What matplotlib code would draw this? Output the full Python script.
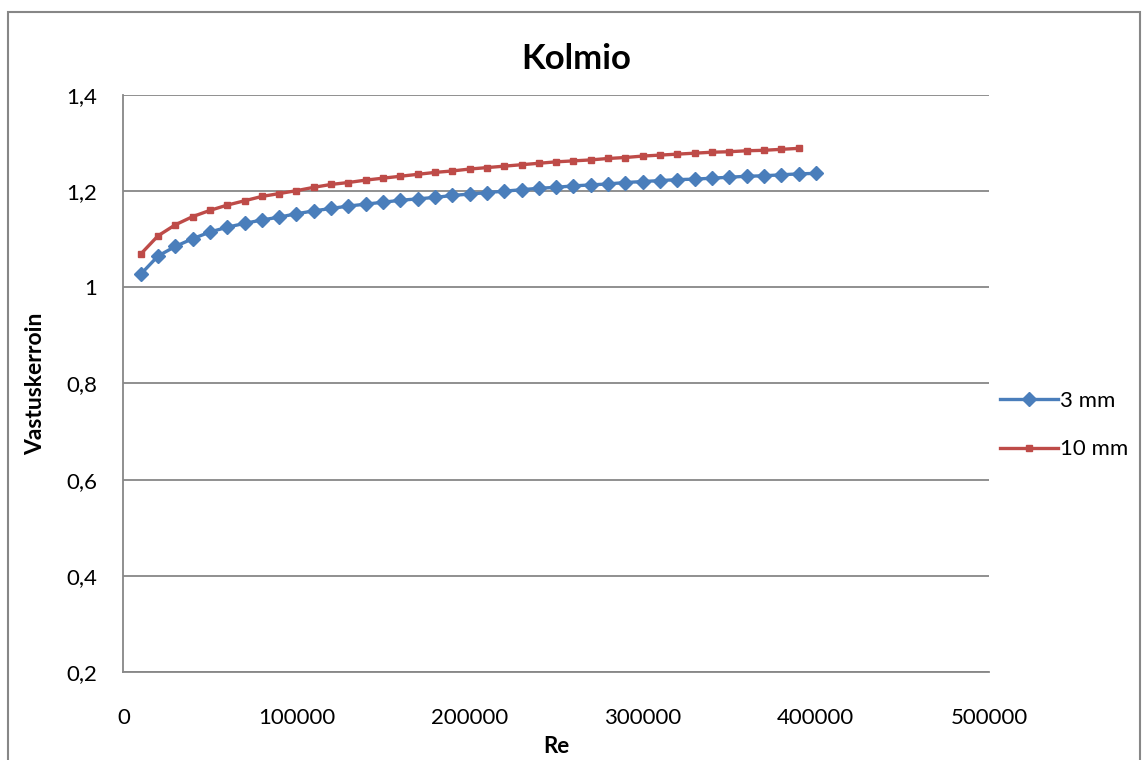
import matplotlib
matplotlib.use('Agg')
import matplotlib.pyplot as plt
from matplotlib.patches import Rectangle
from matplotlib.ticker import FuncFormatter

# Re values (x) for both series
re_3mm = [10000 * k for k in range(1, 41)]
re_10mm = [10000 * k for k in range(1, 40)]

# drag coefficient
cd_3mm = [1.027, 1.065, 1.085, 1.101, 1.115, 1.125, 1.133, 1.140, 1.146, 1.153,
          1.159, 1.164, 1.169, 1.173, 1.177, 1.181, 1.184, 1.187, 1.191, 1.194,
          1.197, 1.200, 1.203, 1.206, 1.208, 1.211, 1.213, 1.215, 1.218, 1.220,
          1.222, 1.224, 1.225, 1.227, 1.229, 1.231, 1.232, 1.234, 1.236, 1.237]
cd_10mm = [1.069, 1.107, 1.130, 1.147, 1.160, 1.171, 1.180, 1.189, 1.195, 1.201,
           1.208, 1.214, 1.218, 1.223, 1.227, 1.231, 1.235, 1.239, 1.242, 1.246,
           1.249, 1.252, 1.255, 1.258, 1.261, 1.263, 1.265, 1.268, 1.270, 1.273,
           1.275, 1.277, 1.279, 1.281, 1.282, 1.284, 1.285, 1.287, 1.289]

x_ticks = [0, 100000, 200000, 300000, 400000, 500000]
y_ticks = [0.2, 0.4, 0.6, 0.8, 1.0, 1.2, 1.4]

plt.rcParams['font.family'] = ['Lato', 'DejaVu Sans']
grey = '#878787'

fig = plt.figure(figsize=(11.45, 7.6), dpi=100)
ax = fig.add_axes([0.1077, 0.1158, 0.7560, 0.7592])

# outer chart border (Excel style)
fig.patches.append(Rectangle((8 / 1145, -0.05), 1132 / 1145, 1.05 - 12 / 760,
                             transform=fig.transFigure, fill=False,
                             edgecolor=grey, linewidth=1.5))

ax.plot(re_3mm, cd_3mm, color='#4a7ebb', linewidth=2.4, marker='D',
        markersize=7, label='3 mm')
ax.plot(re_10mm, cd_10mm, color='#be4b48', linewidth=2.4, marker='s',
        markersize=5, label='10 mm')

ax.set_xlim(0, 500000)
ax.set_ylim(0.2, 1.4)
ax.set_xticks(x_ticks)
ax.set_yticks(y_ticks)
ax.yaxis.set_major_formatter(FuncFormatter(lambda v, p: f"{v:g}".replace('.', ',')))
ax.tick_params(length=0, labelsize=16)
ax.tick_params(axis='x', pad=26)
ax.tick_params(axis='y', pad=19)
ax.grid(axis='y', color=grey, linewidth=1.3)
ax.set_axisbelow(True)
for side in ['top', 'right']:
    ax.spines[side].set_visible(False)
for side in ['left', 'bottom']:
    ax.spines[side].set_color(grey)
    ax.spines[side].set_linewidth(1.3)

# title is centred on the whole chart area, not on the plot area
ax.set_title('Kolmio', fontsize=25, fontweight='bold', pad=19, x=0.523)
ax.set_xlabel('Re', fontsize=16, fontweight='bold', labelpad=6)
ax.set_ylabel('Vastuskerroin', fontsize=16.5, fontweight='bold', labelpad=14)

ax.legend(loc='center left', bbox_to_anchor=(1.0, 0.428), frameon=False,
          fontsize=16, handlelength=2.6, handletextpad=0.1, labelspacing=1.3,
          borderaxespad=0.1)

fig.savefig('out.png', dpi=100)
